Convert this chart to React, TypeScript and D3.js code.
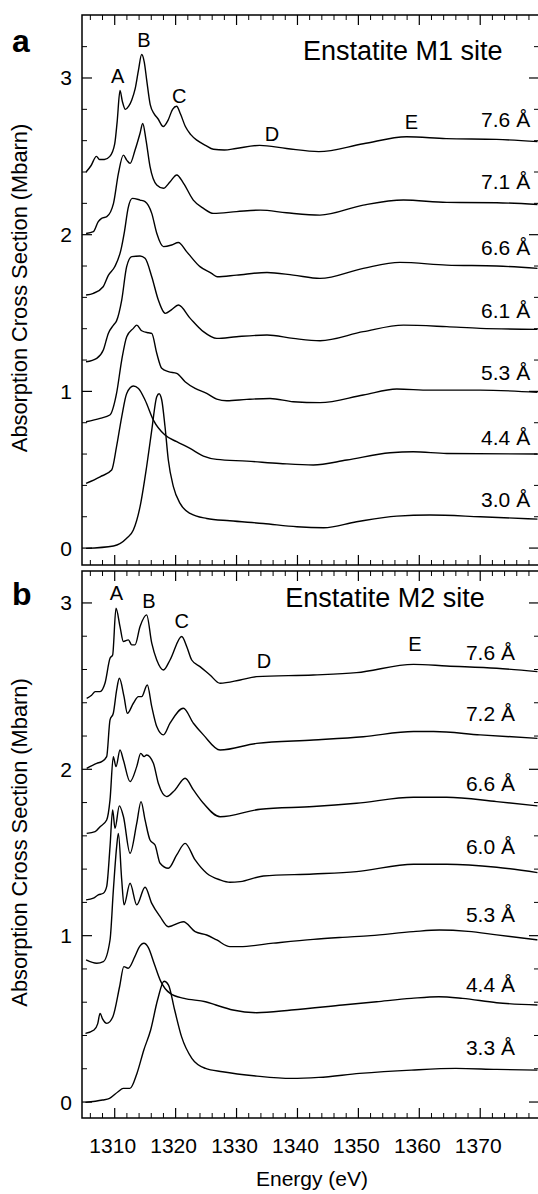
import React from "react";
import * as d3 from "d3";

type Pt = [number, number];

// ---- panel a: Enstatite M1 site, [energy eV, Mbarn] ----
const m1_76: Pt[] = [[1305.3,2.40],[1306.1,2.44],[1307.0,2.50],[1307.5,2.48],[1308.3,2.48],[1309.2,2.50],[1310.0,2.58],[1310.4,2.72],[1310.87,2.92],[1311.26,2.85],[1311.75,2.80],[1312.3,2.82],[1312.8,2.86],[1313.35,2.93],[1313.9,3.05],[1314.42,3.15],[1314.86,3.10],[1315.24,2.99],[1315.83,2.83],[1316.5,2.77],[1317.1,2.74],[1317.97,2.69],[1318.75,2.73],[1319.5,2.80],[1320.16,2.82],[1320.8,2.77],[1321.6,2.69],[1322.45,2.64],[1323.6,2.60],[1324.9,2.57],[1326.2,2.545],[1328.0,2.54],[1329.9,2.55],[1333.8,2.57],[1338.2,2.55],[1343.5,2.53],[1350.8,2.58],[1357.9,2.625],[1364.4,2.613],[1372.7,2.608],[1379.4,2.594]];
const m1_71: Pt[] = [[1305.3,2.008],[1306.5,2.019],[1307.3,2.083],[1307.85,2.104],[1308.7,2.115],[1309.8,2.20],[1310.6,2.39],[1311.42,2.508],[1311.97,2.476],[1312.52,2.455],[1313.34,2.54],[1314.16,2.647],[1314.6,2.71],[1315.14,2.604],[1315.8,2.434],[1316.9,2.317],[1318.0,2.296],[1319.1,2.338],[1320.18,2.381],[1321.3,2.328],[1322.9,2.221],[1324.56,2.168],[1326.2,2.136],[1330.0,2.147],[1333.9,2.157],[1338.2,2.14],[1343.7,2.125],[1350.8,2.189],[1357.4,2.221],[1364.5,2.206],[1372.7,2.204],[1379.4,2.193]];
const m1_66: Pt[] = [[1305.3,1.615],[1306.5,1.626],[1308.1,1.668],[1308.95,1.74],[1310.0,1.795],[1311.0,1.90],[1311.6,2.02],[1312.2,2.17],[1312.9,2.232],[1314.16,2.221],[1314.98,2.211],[1316.08,2.136],[1316.9,2.009],[1318.0,1.924],[1319.35,1.934],[1320.45,1.950],[1321.8,1.892],[1324.0,1.796],[1325.9,1.753],[1326.8,1.732],[1330.0,1.742],[1335.0,1.759],[1339.3,1.742],[1343.7,1.721],[1350.8,1.785],[1356.8,1.823],[1364.5,1.806],[1372.7,1.80],[1379.4,1.785]];
const m1_61: Pt[] = [[1305.3,1.189],[1307.05,1.211],[1308.13,1.264],[1308.95,1.37],[1309.8,1.423],[1310.3,1.45],[1311.15,1.583],[1311.96,1.796],[1312.8,1.86],[1314.16,1.864],[1314.98,1.849],[1316.08,1.732],[1317.16,1.583],[1318.0,1.508],[1318.3,1.498],[1319.3,1.52],[1320.45,1.551],[1322.4,1.466],[1324.56,1.381],[1326.75,1.338],[1330.0,1.349],[1335.0,1.36],[1339.3,1.338],[1343.7,1.323],[1350.8,1.381],[1357.4,1.423],[1364.5,1.413],[1370.0,1.402],[1379.4,1.396]];
const m1_53: Pt[] = [[1305.3,0.806],[1307.6,0.828],[1309.2,0.849],[1310.3,0.987],[1311.15,1.20],[1311.97,1.349],[1313.06,1.402],[1313.62,1.423],[1314.43,1.387],[1315.53,1.374],[1316.08,1.37],[1316.9,1.243],[1317.72,1.147],[1318.8,1.126],[1320.18,1.115],[1321.55,1.062],[1323.2,1.019],[1325.1,0.987],[1326.75,0.951],[1328.4,0.94],[1331.7,0.949],[1335.5,0.955],[1339.3,0.934],[1343.7,0.928],[1350.8,0.977],[1356.3,1.015],[1361.75,1.008],[1370.0,1.008],[1379.4,0.994]];
const m1_44: Pt[] = [[1305.3,0.413],[1307.6,0.455],[1309.5,0.498],[1310.3,0.647],[1311.15,0.838],[1311.97,0.987],[1313.06,1.034],[1313.9,1.019],[1314.98,0.945],[1316.35,0.817],[1318.26,0.721],[1320.18,0.679],[1322.37,0.636],[1324.56,0.587],[1326.75,0.566],[1331.7,0.555],[1337.1,0.54],[1342.6,0.53],[1348.1,0.562],[1355.2,0.608],[1359.0,0.615],[1364.5,0.604],[1379.4,0.60]];
const m1_30: Pt[] = [[1305.3,-0.002],[1309.8,0.013],[1311.97,0.062],[1313.06,0.115],[1314.16,0.264],[1315.24,0.519],[1316.08,0.753],[1316.9,0.966],[1317.28,0.985],[1317.72,0.945],[1318.26,0.774],[1318.8,0.562],[1319.64,0.391],[1320.73,0.285],[1322.37,0.221],[1325.1,0.189],[1328.9,0.174],[1334.4,0.157],[1339.9,0.136],[1344.3,0.13],[1349.7,0.168],[1356.3,0.204],[1361.75,0.211],[1370.0,0.20],[1379.4,0.185]];

// ---- panel b: Enstatite M2 site ----
const m2_76: Pt[] = [[1305.4,2.427],[1306.2,2.445],[1306.8,2.467],[1307.6,2.467],[1308.4,2.517],[1309.23,2.667],[1309.66,2.687],[1310.21,2.968],[1310.87,2.858],[1311.42,2.768],[1312.24,2.778],[1312.79,2.748],[1313.33,2.748],[1314.16,2.858],[1315.24,2.928],[1316.08,2.758],[1316.9,2.657],[1318.0,2.597],[1319.08,2.657],[1321.0,2.798],[1321.83,2.737],[1322.64,2.657],[1324.0,2.617],[1325.64,2.567],[1327.3,2.517],[1330.6,2.537],[1333.3,2.557],[1342.6,2.567],[1349.7,2.581],[1359.05,2.631],[1364.5,2.621],[1372.7,2.607],[1379.4,2.587]];
const m2_72: Pt[] = [[1305.4,2.006],[1307.05,2.036],[1307.86,2.046],[1308.68,2.076],[1309.23,2.297],[1309.77,2.337],[1310.32,2.477],[1310.76,2.547],[1311.53,2.437],[1312.08,2.337],[1313.06,2.397],[1313.89,2.437],[1314.43,2.437],[1315.35,2.507],[1316.08,2.377],[1316.9,2.257],[1318.0,2.207],[1319.08,2.277],[1321.27,2.367],[1322.92,2.277],[1324.56,2.207],[1327.3,2.116],[1333.3,2.156],[1342.6,2.176],[1350.8,2.196],[1359.05,2.227],[1362.35,2.227],[1370.0,2.207],[1379.4,2.186]];
const m2_66: Pt[] = [[1305.4,1.615],[1306.78,1.625],[1307.6,1.655],[1308.68,1.695],[1309.23,1.816],[1309.77,2.076],[1310.21,2.016],[1310.87,2.116],[1311.42,2.056],[1312.52,1.926],[1313.61,2.016],[1314.27,2.096],[1314.82,2.076],[1315.24,2.086],[1316.35,2.036],[1317.16,1.916],[1318.54,1.836],[1319.9,1.876],[1321.55,1.946],[1322.92,1.876],[1324.56,1.796],[1327.3,1.715],[1333.9,1.76],[1342.6,1.776],[1349.7,1.796],[1359.05,1.832],[1364.5,1.832],[1372.7,1.806],[1379.4,1.78]];
const m2_60: Pt[] = [[1305.3,1.215],[1306.5,1.225],[1307.3,1.245],[1308.13,1.255],[1308.68,1.295],[1309.23,1.535],[1309.66,1.756],[1310.05,1.645],[1310.76,1.78],[1311.43,1.716],[1312.52,1.495],[1313.62,1.676],[1314.32,1.806],[1314.98,1.696],[1315.8,1.575],[1316.62,1.545],[1317.45,1.435],[1318.8,1.405],[1320.18,1.485],[1321.55,1.555],[1323.2,1.455],[1325.1,1.375],[1327.3,1.335],[1328.9,1.321],[1330.6,1.325],[1334.4,1.359],[1342.6,1.371],[1349.7,1.385],[1359.05,1.429],[1364.5,1.429],[1372.7,1.411],[1379.4,1.379]];
const m2_53: Pt[] = [[1305.3,0.854],[1307.05,0.834],[1308.13,0.844],[1309.23,0.974],[1309.78,1.275],[1310.32,1.535],[1310.6,1.615],[1311.15,1.335],[1311.53,1.185],[1312.52,1.315],[1313.62,1.185],[1314.98,1.291],[1316.08,1.194],[1317.45,1.114],[1318.8,1.054],[1321.28,1.084],[1323.2,1.024],[1325.1,1.004],[1326.75,0.974],[1328.9,0.934],[1330.5,0.934],[1336.0,0.955],[1342.6,0.978],[1347.4,0.99],[1352.0,1.0],[1359.0,1.024],[1363.3,1.034],[1368.0,1.026],[1372.7,1.005],[1379.4,0.975]];
const m2_44: Pt[] = [[1305.2,0.413],[1306.6,0.433],[1307.2,0.47],[1307.6,0.533],[1308.0,0.50],[1308.7,0.473],[1309.7,0.513],[1310.8,0.693],[1311.5,0.814],[1312.2,0.804],[1313.3,0.874],[1314.0,0.93],[1314.8,0.954],[1315.5,0.93],[1316.5,0.83],[1317.5,0.73],[1319.1,0.653],[1321.4,0.623],[1324.9,0.603],[1326.6,0.583],[1329.4,0.553],[1333.3,0.537],[1339.0,0.553],[1347.4,0.583],[1353.0,0.603],[1358.7,0.623],[1363.2,0.633],[1367.1,0.623],[1372.7,0.597],[1379.4,0.583]];
const m2_33: Pt[] = [[1305.2,-0.002],[1308.0,0.012],[1309.15,0.022],[1310.55,0.062],[1311.4,0.082],[1312.5,0.082],[1313.65,0.172],[1314.78,0.313],[1315.9,0.433],[1317.03,0.613],[1318.1,0.726],[1318.83,0.703],[1319.84,0.553],[1320.97,0.393],[1322.66,0.263],[1324.9,0.202],[1327.7,0.182],[1333.35,0.156],[1339.0,0.142],[1343.5,0.148],[1350.2,0.172],[1358.7,0.192],[1366.0,0.202],[1372.7,0.196],[1379.4,0.192]];

const m1Labels = ["7.6 Å", "7.1 Å", "6.6 Å", "6.1 Å", "5.3 Å", "4.4 Å", "3.0 Å"];
const m1LabelY = [2.69, 2.29, 1.87, 1.47, 1.07, 0.66, 0.26];
const m2Labels = ["7.6 Å", "7.2 Å", "6.6 Å", "6.0 Å", "5.3 Å", "4.4 Å", "3.3 Å"];
const m2LabelY = [2.66, 2.29, 1.87, 1.49, 1.08, 0.66, 0.28];

const peakNames = ["A", "B", "C", "D", "E"];
const m1PeakE = [1310.5, 1314.8, 1320.6, 1335.8, 1358.7];
const m1PeakV = [2.97, 3.2, 2.84, 2.6, 2.675];
const m2PeakE = [1310.3, 1315.6, 1321.0, 1334.5, 1359.3];
const m2PeakV = [3.02, 2.97, 2.85, 2.61, 2.71];

const xTicks = [1310, 1320, 1330, 1340, 1350, 1360, 1370];
const yTicks = [0, 1, 2, 3];

const FONT = "'Liberation Sans', Arial, Helvetica, sans-serif";
const W = 538;
const H = 1194;
const left = 82;
const right = 539;

const x = d3.scaleLinear().domain([1304.63, 1379.65]).range([left, right]);

interface PanelProps {
  top: number;
  bottom: number;
  yDomain: [number, number];
  curves: Pt[][];
  labels: string[];
  labelY: number[];
  labelE: number;
  peakE: number[];
  peakV: number[];
  title: string;
  titleE: number;
  titleV: number;
  letter: string;
  letterY: number;
  showXLabels: boolean;
}

const Panel: React.FC<PanelProps> = (p) => {
  const y = d3.scaleLinear().domain(p.yDomain).range([p.bottom, p.top]);
  const line = d3
    .line<Pt>()
    .x((d) => x(d[0]))
    .y((d) => y(d[1]))
    .curve(d3.curveMonotoneX);

  const xMinor = d3.range(1306, 1380, 2).filter((v) => v % 10 !== 0);
  const yMinor = d3
    .range(0, 3.4, 0.2)
    .map((v) => Math.round(v * 10) / 10)
    .filter((v) => v % 1 !== 0 && v < p.yDomain[1] - 0.02);

  const major = 10;
  const minor = 5;

  return (
    <g>
      {/* frame */}
      <rect x={left} y={p.top} width={right - left} height={p.bottom - p.top} fill="none" stroke="#000" strokeWidth={1.5} />

      {/* x ticks, top and bottom, pointing in */}
      {xTicks.map((t) => (
        <g key={"xm" + t}>
          <line x1={x(t)} x2={x(t)} y1={p.bottom} y2={p.bottom - major} stroke="#000" strokeWidth={1.2} />
          <line x1={x(t)} x2={x(t)} y1={p.top} y2={p.top + major} stroke="#000" strokeWidth={1.2} />
        </g>
      ))}
      {xMinor.map((t) => (
        <g key={"xn" + t}>
          <line x1={x(t)} x2={x(t)} y1={p.bottom} y2={p.bottom - minor} stroke="#000" strokeWidth={1} />
          <line x1={x(t)} x2={x(t)} y1={p.top} y2={p.top + minor} stroke="#000" strokeWidth={1} />
        </g>
      ))}

      {/* y ticks, left and right */}
      {yTicks.map((t) => (
        <g key={"ym" + t}>
          <line x1={left} x2={left + major} y1={y(t)} y2={y(t)} stroke="#000" strokeWidth={1.2} />
          <line x1={right} x2={right - major} y1={y(t)} y2={y(t)} stroke="#000" strokeWidth={1.2} />
          <text x={72} y={y(t) + 7.5} textAnchor="end" fontSize={21} fontFamily={FONT}>
            {t}
          </text>
        </g>
      ))}
      {yMinor.map((t) => (
        <g key={"yn" + t}>
          <line x1={left} x2={left + minor} y1={y(t)} y2={y(t)} stroke="#000" strokeWidth={1} />
          <line x1={right} x2={right - minor} y1={y(t)} y2={y(t)} stroke="#000" strokeWidth={1} />
        </g>
      ))}

      {/* spectra */}
      {p.curves.map((c, i) => (
        <path key={"c" + i} d={line(c) || ""} fill="none" stroke="#000" strokeWidth={1.4} strokeLinejoin="round" />
      ))}

      {/* distance labels */}
      {p.labels.map((s, i) => (
        <text key={"l" + i} x={x(p.labelE)} y={y(p.labelY[i])} textAnchor="end" fontSize={21} fontFamily={FONT}>
          {s}
        </text>
      ))}

      {/* peak letters */}
      {peakNames.map((s, i) => (
        <text key={"p" + s} x={x(p.peakE[i])} y={y(p.peakV[i])} textAnchor="middle" fontSize={20} fontFamily={FONT}>
          {s}
        </text>
      ))}

      <text x={x(p.titleE)} y={y(p.titleV)} fontSize={27} fontFamily={FONT}>
        {p.title}
      </text>

      <text x={12} y={p.letterY} fontSize={32} fontWeight="bold" fontFamily={FONT}>
        {p.letter}
      </text>

      <text
        transform={`translate(27, ${(p.top + p.bottom) / 2 - 2}) rotate(-90)`}
        textAnchor="middle"
        fontSize={21.8}
        fontFamily={FONT}
      >
        Absorption Cross Section (Mbarn)
      </text>

      {p.showXLabels &&
        xTicks.map((t) => (
          <text key={"xl" + t} x={x(t) - 2} y={1153} textAnchor="middle" fontSize={21} fontFamily={FONT}>
            {t}
          </text>
        ))}
    </g>
  );
};

export default function App() {
  return (
    <svg width={W} height={H} style={{ position: "absolute", left: 0, top: 0, background: "#fff" }}>
      <Panel
        top={15}
        bottom={565}
        yDomain={[-0.108, 3.402]}
        curves={[m1_76, m1_71, m1_66, m1_61, m1_53, m1_44, m1_30]}
        labels={m1Labels}
        labelY={m1LabelY}
        labelE={1378.2}
        peakE={m1PeakE}
        peakV={m1PeakV}
        title="Enstatite M1 site"
        titleE={1340.9}
        titleV={3.115}
        letter="a"
        letterY={52}
        showXLabels={false}
      />
      <Panel
        top={571}
        bottom={1118}
        yDomain={[-0.096, 3.192]}
        curves={[m2_76, m2_72, m2_66, m2_60, m2_53, m2_44, m2_33]}
        labels={m2Labels}
        labelY={m2LabelY}
        labelE={1375.7}
        peakE={m2PeakE}
        peakV={m2PeakV}
        title="Enstatite M2 site"
        titleE={1338.0}
        titleV={2.978}
        letter="b"
        letterY={605}
        showXLabels={true}
      />
      <text x={312} y={1186} textAnchor="middle" fontSize={21} fontFamily={FONT}>
        Energy (eV)
      </text>
    </svg>
  );
}
